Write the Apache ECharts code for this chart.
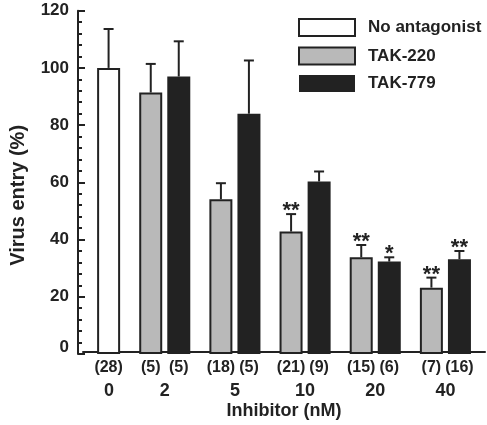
<!DOCTYPE html>
<html>
<head>
<meta charset="utf-8">
<script src="https://cdn.jsdelivr.net/npm/echarts@6/dist/echarts.min.js"></script>
<style>html,body{margin:0;padding:0;background:#fff}#c{width:487px;height:425px}</style>
</head>
<body>
<div id="c"></div>
<script>
// ---- data ----
const categories = ['0', '2', '5', '10', '20', '40'];
const noAntag    = [100, '-', '-', '-', '-', '-'];
const noAntagErr = [13.6, '-', '-', '-', '-', '-'];
const noAntagN   = [28, null, null, null, null, null];
const tak220     = ['-', 91.4, 54.1, 42.8, 33.8, 23.2];
const tak220Err  = ['-', 10.0, 5.6, 6.1, 4.3, 3.5];
const tak220N    = [null, 5, 18, 21, 15, 7];
const tak220Sig  = [0, 0, 0, 2, 2, 2];
const tak779     = ['-', 97.0, 84.0, 60.3, 32.3, 33.1];
const tak779Err  = ['-', 12.3, 18.6, 3.5, 1.5, 2.9];
const tak779N    = [null, 5, 5, 9, 6, 16];
const tak779Sig  = [0, 0, 0, 0, 1, 2];
const noAntagSig = [0, 0, 0, 0, 0, 0];
const yTicks = { min: 0, max: 120, interval: 20 };

// ---- styling ----
const FONT = 'Liberation Sans';
const INK = '#222';
const GRAY = '#b9b9b9';

function nLabel(arr) {
  return {
    show: true, position: 'bottom', distance: 6,
    fontFamily: FONT, fontWeight: 'bold', fontSize: 16, color: INK,
    formatter: p => arr[p.dataIndex] == null ? '' : '(' + arr[p.dataIndex] + ')'
  };
}

function errSeries(vals, errs, sig, offset) {
  const data = [];
  vals.forEach((v, i) => { if (v !== '-') data.push([i, v, errs[i], sig[i]]); });
  return {
    type: 'custom', xAxisIndex: 0, yAxisIndex: 0, z: 5, silent: true,
    data: data,
    renderItem: function (params, api) {
      const i = api.value(0), v = api.value(1), e = api.value(2), s = api.value(3);
      const base = api.coord([i, v]);
      const top = api.coord([i, v + e]);
      const x = base[0] + offset;
      const children = [
        { type: 'line', shape: { x1: x, y1: base[1], x2: x, y2: top[1] }, style: { stroke: INK, lineWidth: 2 } },
        { type: 'line', shape: { x1: x - 5, y1: top[1], x2: x + 5, y2: top[1] }, style: { stroke: INK, lineWidth: 2 } }
      ];
      if (s > 0) {
        children.push({ type: 'text', style: {
          text: '*'.repeat(s), x: x, y: top[1] - 3, align: 'center', verticalAlign: 'middle',
          font: 'bold 22px "' + FONT + '"', fill: INK } });
      }
      return { type: 'group', children: children };
    }
  };
}

const chart = echarts.init(document.getElementById('c'), null, { renderer: 'canvas' });
chart.setOption({
  animation: false,
  backgroundColor: '#fff',
  grid: [
    { left: 54.5, right: 6.5, top: 10.7, bottom: 71 },
    { left: 83, right: 2, top: 10.7, bottom: 71 }
  ],
  legend: {
    data: ['No antagonist', 'TAK-220', 'TAK-779'],
    orient: 'vertical', left: 298, top: 18, padding: 0,
    itemWidth: 56, itemHeight: 17, itemGap: 9.5,
    icon: 'rect',
    textStyle: { fontFamily: FONT, fontWeight: 'bold', fontSize: 17, color: INK, padding: [0, 0, 0, 8] }
  },
  xAxis: [
    {
      type: 'category', gridIndex: 0, data: categories,
      axisLine: { show: false }, axisTick: { show: false },
      axisLabel: {
        margin: 28, fontFamily: FONT, fontWeight: 'bold', fontSize: 18, color: INK,
        formatter: (val, idx) => idx === 0 ? '{s|' + val + '}' : val,
        rich: { s: { fontFamily: FONT, fontWeight: 'bold', fontSize: 18, color: INK, padding: [0, 0, 0, 29] } }
      }
    },
    {
      type: 'value', gridIndex: 1, min: 0, max: 1,
      axisLine: { show: true, onZero: false, lineStyle: { color: INK, width: 2 } },
      axisTick: { show: false }, axisLabel: { show: false }, splitLine: { show: false },
      name: 'Inhibitor (nM)', nameLocation: 'middle', nameGap: 50,
      nameTextStyle: { fontFamily: FONT, fontWeight: 'bold', fontSize: 18, color: INK }
    }
  ],
  yAxis: [
    {
      type: 'value', gridIndex: 0, min: yTicks.min, max: yTicks.max, interval: yTicks.interval,
      offset: -18.5,
      axisLine: { show: true, lineStyle: { color: INK, width: 2 } },
      axisTick: { show: true, inside: true, length: 7, lineStyle: { color: INK, width: 2 } },
      minorTick: { show: true, splitNumber: 5, length: 4, lineStyle: { color: INK, width: 2 } },
      splitLine: { show: false },
      axisLabel: {
        margin: 9, fontFamily: FONT, fontWeight: 'bold', fontSize: 17, color: INK,
        formatter: v => v === 0 ? '{z|0}' : String(v),
        rich: { z: { fontFamily: FONT, fontWeight: 'bold', fontSize: 17, color: INK, padding: [0, 0, 14, 0] } }
      },
      name: 'Virus entry (%)', nameLocation: 'middle', nameGap: 50, nameRotate: 90,
      nameTextStyle: { fontFamily: FONT, fontWeight: 'bold', fontSize: 20, color: INK, padding: [0, 26, 0, 0] }
    },
    { type: 'value', gridIndex: 1, show: false, min: 0, max: 1 }
  ],
  series: [
    {
      name: 'TAK-220', type: 'bar', data: tak220, barWidth: 23, barGap: '22%',
      itemStyle: { color: GRAY, borderColor: INK, borderWidth: 2 },
      label: nLabel(tak220N)
    },
    {
      name: 'No antagonist', type: 'bar', stack: 'b', data: noAntag, barWidth: 23,
      itemStyle: { color: '#fff', borderColor: INK, borderWidth: 2 },
      label: nLabel(noAntagN)
    },
    {
      name: 'TAK-779', type: 'bar', stack: 'b', data: tak779, barWidth: 23,
      itemStyle: { color: INK, borderColor: INK, borderWidth: 0 },
      label: nLabel(tak779N)
    },
    errSeries(tak220, tak220Err, tak220Sig, -14),
    errSeries(noAntag, noAntagErr, noAntagSig, 14),
    errSeries(tak779, tak779Err, tak779Sig, 14)
  ]
});
</script>
</body>
</html>
